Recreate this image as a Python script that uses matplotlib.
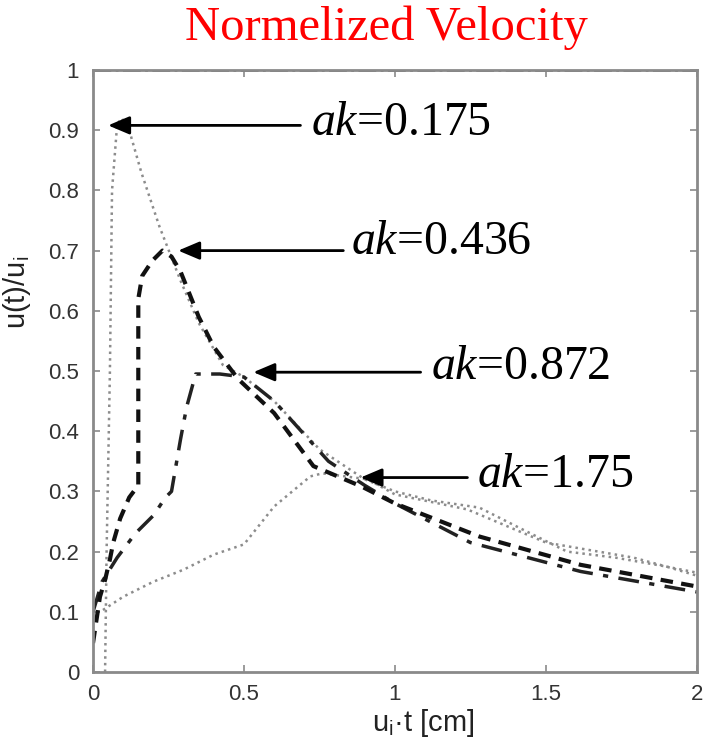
import matplotlib.pyplot as plt

plt.rcParams['mathtext.fontset'] = 'custom'
plt.rcParams['mathtext.rm'] = 'Liberation Serif'
plt.rcParams['mathtext.it'] = 'Liberation Serif:italic'

# u(t)/u_i against u_i*t for four wave steepness values
x_175 = [0.04, 0.045, 0.056, 0.063, 0.08, 0.095, 0.12, 0.16, 0.22, 0.29, 0.35, 0.43, 0.5,
         0.6, 0.75, 0.9, 1.0, 1.12, 1.28, 1.41, 1.57, 1.73, 1.9, 2.0]
y_175 = [0.0, 0.2, 0.5, 0.8, 0.91, 0.92, 0.9, 0.83, 0.74, 0.65, 0.58, 0.51, 0.49,
         0.45, 0.37, 0.32, 0.30, 0.285, 0.273, 0.24, 0.20, 0.19, 0.175, 0.16]

x_436 = [0.0, 0.023, 0.04, 0.056, 0.067, 0.09, 0.12, 0.15, 0.15, 0.163, 0.196, 0.23, 0.26,
         0.29, 0.35, 0.4, 0.48, 0.6, 0.73, 0.89, 1.0, 1.28, 1.615, 2.0]
y_436 = [0.048, 0.125, 0.153, 0.187, 0.215, 0.255, 0.29, 0.31, 0.62, 0.658, 0.683, 0.70, 0.69,
         0.665, 0.59, 0.54, 0.487, 0.43, 0.342, 0.308, 0.28, 0.225, 0.178, 0.142]

x_872 = [0.0, 0.03, 0.08, 0.14, 0.2, 0.24, 0.26, 0.29, 0.31, 0.34, 0.42, 0.5, 0.6,
         0.78, 0.9, 1.0, 1.25, 1.615, 2.0]
y_872 = [0.10, 0.15, 0.19, 0.23, 0.26, 0.29, 0.30, 0.387, 0.44, 0.495, 0.495, 0.49, 0.45,
         0.35, 0.31, 0.28, 0.215, 0.167, 0.133]

x_1750 = [0.033, 0.1, 0.2, 0.3, 0.4, 0.5, 0.6, 0.72, 0.76, 0.91, 1.0, 1.24, 1.5,
          1.79, 1.9, 2.0]
y_1750 = [0.103, 0.125, 0.15, 0.17, 0.195, 0.212, 0.275, 0.325, 0.33, 0.32, 0.295, 0.27, 0.215,
          0.19, 0.175, 0.165]

# annotation labels: (text, arrow tip, arrow tail, text anchor)
labels = ['0.175', '0.436', '0.872', '1.75']
tips = [(0.05, 0.908), (0.282, 0.70), (0.531, 0.498), (0.886, 0.323)]
tails = [(0.687, 0.908), (0.829, 0.70), (1.085, 0.498), (1.24, 0.323)]
text_pos = [(0.723, 0.892), (0.856, 0.695), (1.12, 0.487), (1.273, 0.308)]

fig = plt.figure(figsize=(7.03, 7.40), dpi=100)
ax = fig.add_axes([0.1323, 0.0919, 0.859, 0.8135])

ax.plot([0, 2], [1, 1], color='#555555', lw=2, linestyle='-.')
ax.plot(x_175, y_175, color='#8c8c8c', lw=1.8, linestyle=':')
ax.plot(x_1750, y_1750, color='#8c8c8c', lw=1.8, linestyle=':')
ax.plot(x_872, y_872, color='#222222', lw=2.5, linestyle=(0, (6, 3, 1.5, 3)))
ax.plot(x_436, y_436, color='#111111', lw=3, linestyle=(0, (3, 2)))

for lab, tip, tail, tp in zip(labels, tips, tails, text_pos):
    ax.annotate('', xy=tip, xytext=tail,
                arrowprops=dict(arrowstyle='-|>,head_length=1.3,head_width=0.55',
                                color='black', lw=2, shrinkA=0, shrinkB=0))
    ax.text(tp[0], tp[1], r'$\mathit{ak}$=' + lab, fontsize=34.5,
            family='Liberation Serif', ha='left', va='baseline')

ax.set_xlim(0, 2)
ax.set_ylim(0, 1)
ax.set_xticks([0, 0.5, 1, 1.5, 2])
ax.set_xticklabels(['0', '0.5', '1', '1.5', '2'])
ax.set_yticks([i / 10 for i in range(11)])
ax.set_yticklabels(['0', '0.1', '0.2', '0.3', '0.4', '0.5', '0.6', '0.7', '0.8', '0.9', '1'])

for sp in ax.spines.values():
    sp.set_color('#8a8a8a')
    sp.set_linewidth(2)
ax.tick_params(direction='in', length=5, width=1.2, color='#8a8a8a',
               top=True, right=True, labelcolor='#333333', labelsize=16)
ax.tick_params(axis='y', pad=10)
ax.tick_params(axis='x', pad=9)
for t in ax.get_xticklabels() + ax.get_yticklabels():
    t.set_family('Liberation Sans')

ax.set_xlabel(r'u$_\mathregular{i}$·t [cm]', fontsize=21, family='Liberation Sans',
              color='#222222')
ax.xaxis.set_label_coords(0.547, -0.058)
ax.set_ylabel(r'u(t)/u$_\mathregular{i}$', fontsize=21, family='Liberation Sans',
              color='#222222')
ax.yaxis.set_label_coords(-0.1, 0.63)

fig.text(386 / 703, 1 - 28 / 740, 'Normelized Velocity', color='red', fontsize=35,
         family='Liberation Serif', ha='center', va='center')

fig.savefig('out.png', dpi=100)
